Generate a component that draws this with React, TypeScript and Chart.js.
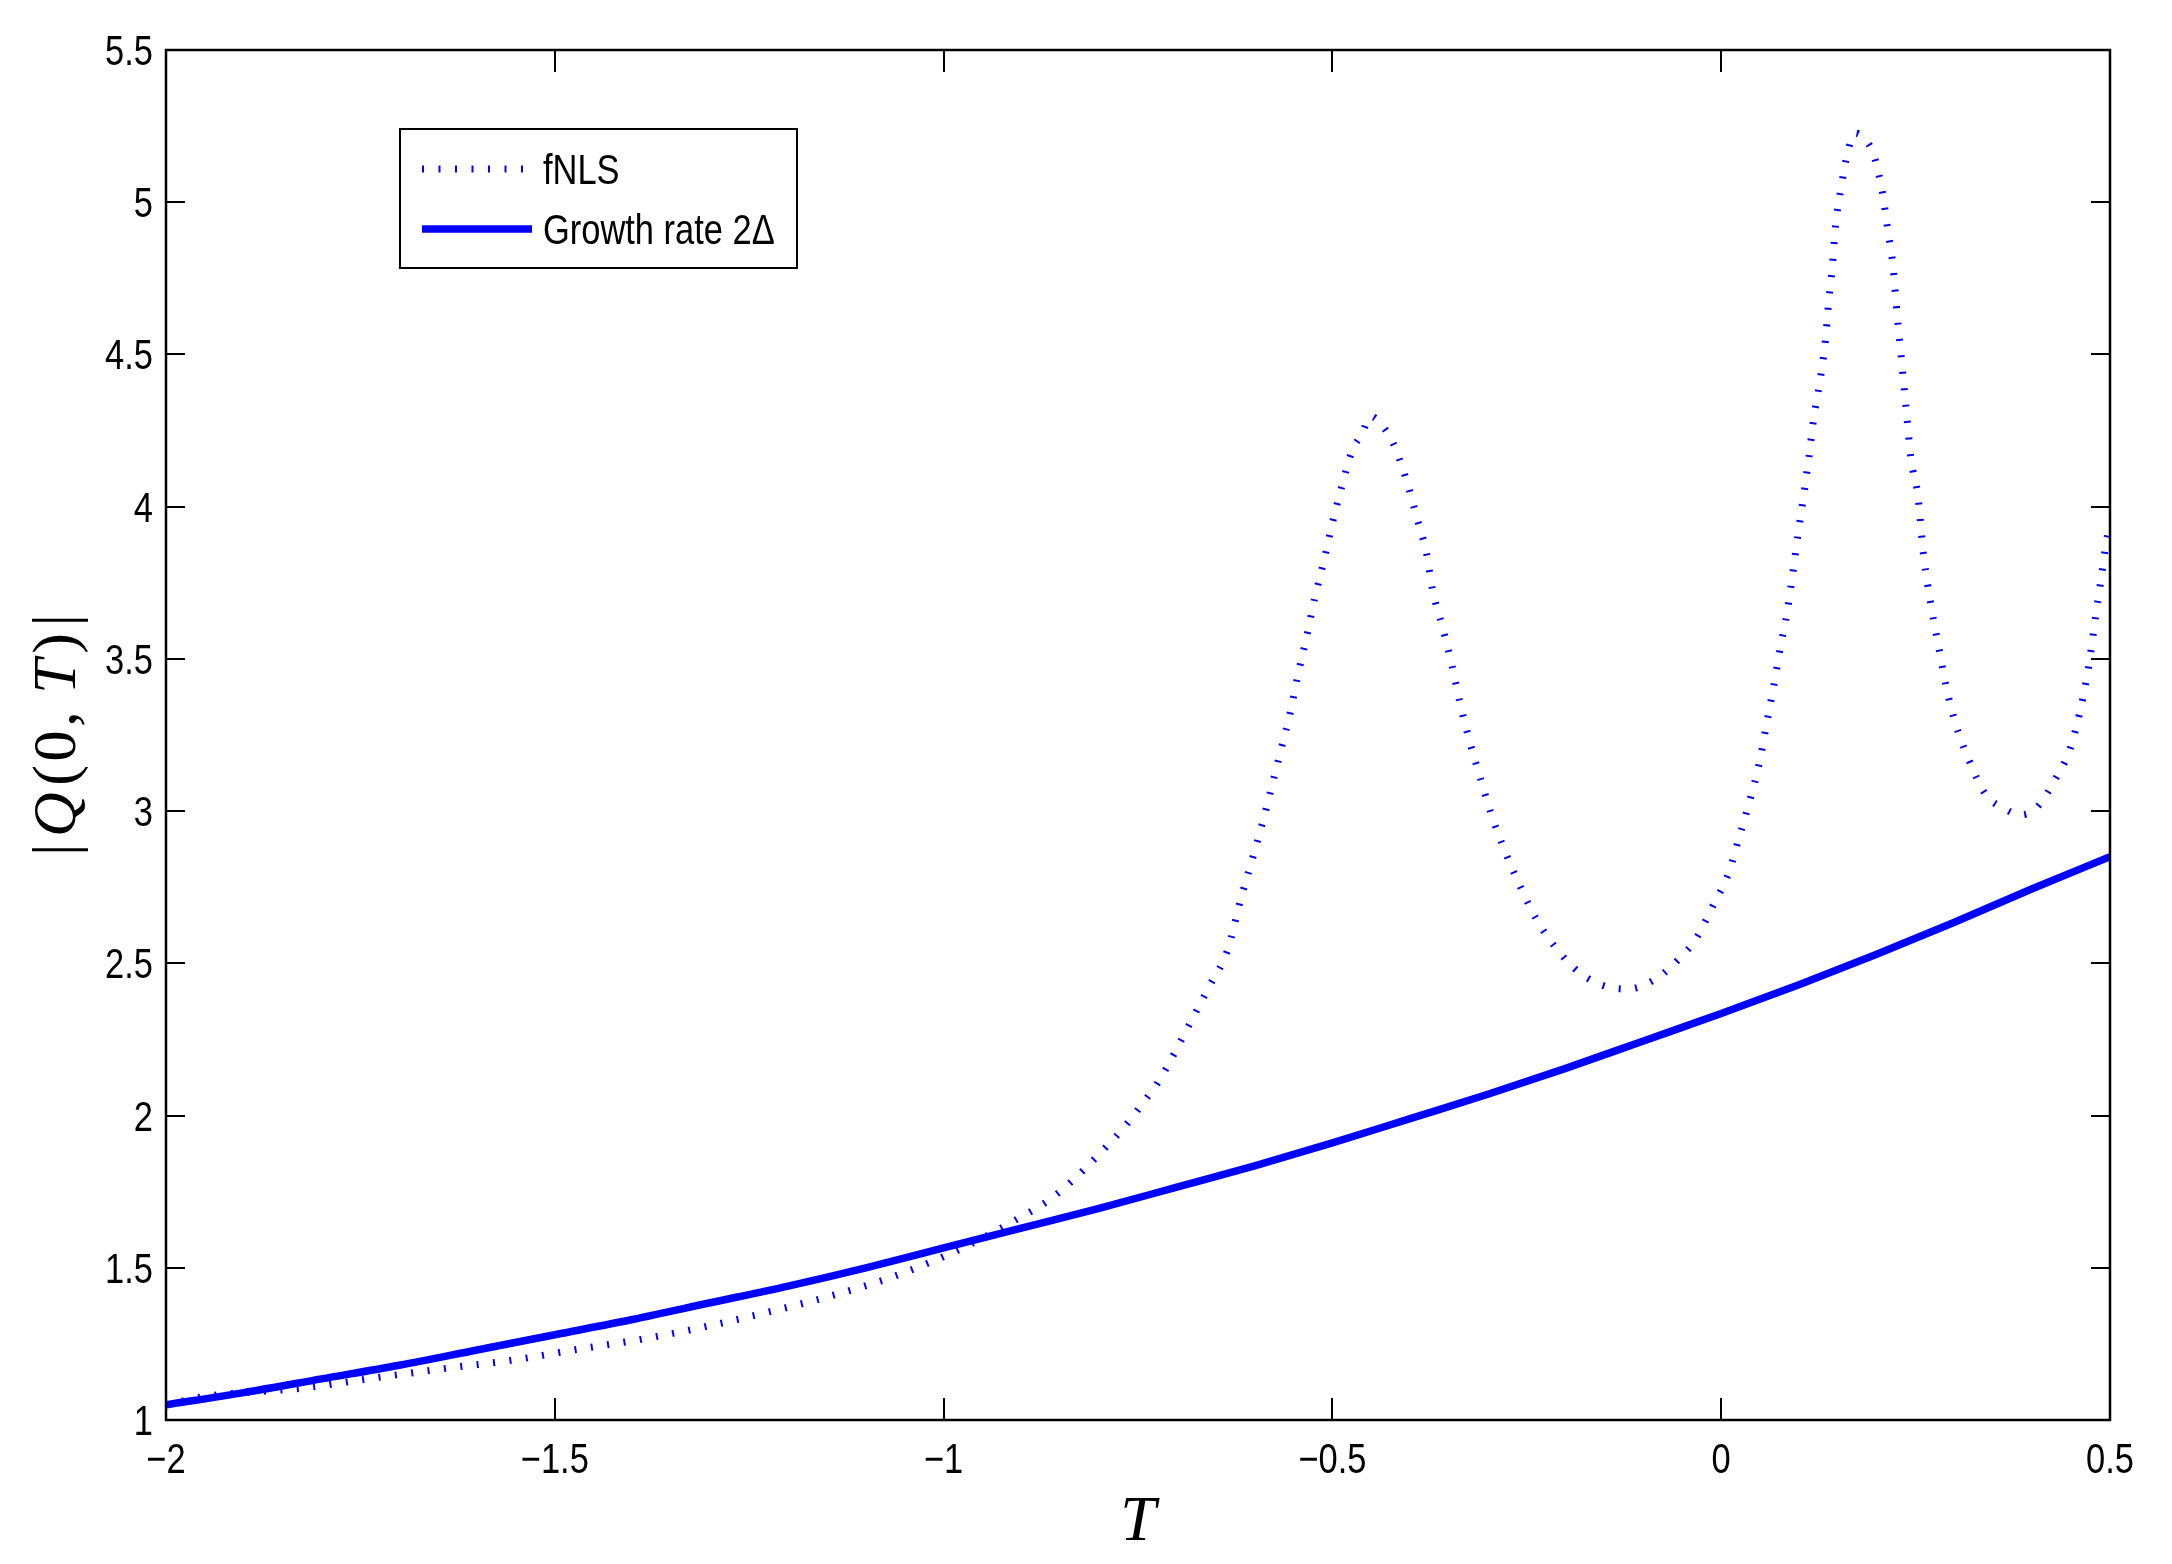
import React, { useEffect, useRef } from "react";
import { Chart, registerables } from "chart.js";

Chart.register(...registerables);

const W = 2172;
const H = 1564;

// Growth rate 2Δ (solid)
const growthT = [
  -2.0, -1.9, -1.8, -1.7, -1.6, -1.5, -1.4, -1.3, -1.2, -1.1, -1.0, -0.9, -0.8,
  -0.7, -0.6, -0.5, -0.4, -0.3, -0.2, -0.1, 0.0, 0.1, 0.2, 0.3, 0.4, 0.5,
];
const growthQ = [
  1.05, 1.09, 1.135, 1.18, 1.23, 1.28, 1.33, 1.385, 1.44, 1.5, 1.565, 1.63,
  1.695, 1.765, 1.835, 1.91, 1.99, 2.07, 2.155, 2.245, 2.335, 2.43, 2.53, 2.635,
  2.745, 2.85,
];

// fNLS (dotted)
const fnlsT = [
  -2.0, -1.951, -1.828, -1.721, -1.639, -1.553, -1.471, -1.389, -1.305, -1.223,
  -1.14, -1.059, -0.979, -0.94, -0.903, -0.864, -0.831, -0.799, -0.768, -0.739,
  -0.725, -0.681, -0.658, -0.635, -0.617, -0.603, -0.59, -0.578, -0.566, -0.554,
  -0.544, -0.533, -0.523, -0.511, -0.5, -0.488, -0.474, -0.462, -0.451, -0.434,
  -0.422, -0.405, -0.392, -0.379, -0.371, -0.358, -0.346, -0.336, -0.324, -0.31,
  -0.296, -0.279, -0.26, -0.239, -0.213, -0.181, -0.142, -0.121, -0.081, -0.049,
  -0.034, -0.011, 0.01, 0.023, 0.037, 0.049, 0.058, 0.067, 0.076, 0.085, 0.092,
  0.099, 0.106, 0.113, 0.119, 0.127, 0.134, 0.138, 0.143, 0.147, 0.154, 0.163,
  0.172, 0.182, 0.195, 0.202, 0.207, 0.214, 0.221, 0.225, 0.232, 0.239, 0.244,
  0.253, 0.26, 0.271, 0.28, 0.289, 0.301, 0.317, 0.34, 0.365, 0.384, 0.404,
  0.429, 0.45, 0.471, 0.482, 0.489, 0.496, 0.5,
];
const fnlsQ = [
  1.05, 1.077, 1.104, 1.142, 1.17, 1.197, 1.232, 1.265, 1.307, 1.356, 1.411,
  1.476, 1.561, 1.611, 1.663, 1.723, 1.794, 1.876, 1.961, 2.057, 2.106, 2.313,
  2.426, 2.542, 2.719, 2.842, 2.961, 3.081, 3.203, 3.326, 3.451, 3.574, 3.697,
  3.821, 3.946, 4.066, 4.188, 4.239, 4.297, 4.26, 4.209, 4.089, 3.969, 3.847,
  3.724, 3.601, 3.476, 3.356, 3.233, 3.111, 2.992, 2.874, 2.761, 2.651, 2.552,
  2.467, 2.42, 2.416, 2.454, 2.529, 2.574, 2.687, 2.8, 2.913, 3.037, 3.158, 3.281,
  3.403, 3.536, 3.657, 3.78, 3.913, 4.035, 4.167, 4.29, 4.412, 4.545, 4.667,
  4.79, 4.922, 5.044, 5.167, 5.227, 5.214, 5.164, 5.1, 5.038, 4.913, 4.79, 4.668,
  4.479, 4.29, 4.158, 4.035, 3.847, 3.658, 3.536, 3.413, 3.29, 3.178, 3.055,
  3.007, 2.988, 3.007, 3.102, 3.215, 3.451, 3.648, 3.771, 3.894, 3.93,
];

const xTickValues = [-2, -1.5, -1, -0.5, 0, 0.5];
const xTickLabels = ["\u22122", "\u22121.5", "\u22121", "\u22120.5", "0", "0.5"];
const yTickValues = [1, 1.5, 2, 2.5, 3, 3.5, 4, 4.5, 5, 5.5];
const yTickLabels = ["1", "1.5", "2", "2.5", "3", "3.5", "4", "4.5", "5", "5.5"];
const seriesLabels = ["fNLS", "Growth rate 2\u0394"];
const xTitle = "T";

const BLUE = "#0000ff";
const SANS = "'Liberation Sans', Arial, sans-serif";
const SERIF = "'Liberation Serif', 'DejaVu Serif', serif";
const DOT_DASH = [2, 14.5];
const NARROW = 0.82;

function labelFor(values: number[], labels: string[], v: number) {
  const i = values.findIndex((t) => Math.abs(t - v) < 1e-9);
  return i >= 0 ? labels[i] : "";
}

function narrowText(
  ctx: CanvasRenderingContext2D,
  s: string,
  x: number,
  y: number,
  align: CanvasTextAlign,
  baseline: CanvasTextBaseline
) {
  ctx.save();
  ctx.translate(x, y);
  ctx.scale(NARROW, 1);
  ctx.textAlign = align;
  ctx.textBaseline = baseline;
  ctx.fillText(s, 0, 0);
  ctx.restore();
}

const framePlugin = {
  id: "matlabFrame",
  afterDraw(chart: any) {
    const ctx = chart.ctx as CanvasRenderingContext2D;
    const { left, right, top, bottom } = chart.chartArea;
    const xs = chart.scales.x;
    const ys = chart.scales.y;
    ctx.save();
    ctx.strokeStyle = "#000";
    ctx.lineWidth = 2;
    ctx.lineCap = "butt";
    // tick marks (inside, all four sides)
    ctx.beginPath();
    for (const t of xs.ticks) {
      const px = Math.round(xs.getPixelForValue(t.value));
      ctx.moveTo(px, bottom);
      ctx.lineTo(px, bottom - 22);
      ctx.moveTo(px, top);
      ctx.lineTo(px, top + 22);
    }
    for (const t of ys.ticks) {
      const py = Math.round(ys.getPixelForValue(t.value));
      ctx.moveTo(left, py);
      ctx.lineTo(left + 19, py);
      ctx.moveTo(right, py);
      ctx.lineTo(right - 19, py);
    }
    ctx.stroke();
    // box
    ctx.lineWidth = 2.5;
    ctx.strokeRect(left, top, right - left, bottom - top);

    // tick labels
    ctx.fillStyle = "#000";
    ctx.font = `42px ${SANS}`;
    for (const t of xs.ticks) {
      const px = xs.getPixelForValue(t.value);
      narrowText(ctx, labelFor(xTickValues, xTickLabels, t.value), px, bottom + 53, "center", "alphabetic");
    }
    for (const t of ys.ticks) {
      const py = ys.getPixelForValue(t.value);
      narrowText(ctx, labelFor(yTickValues, yTickLabels, t.value), left - 13, py + 15, "right", "alphabetic");
    }

    // legend
    const lx = 400, ly = 129, lw = 397, lh = 139;
    ctx.fillStyle = "#fff";
    ctx.fillRect(lx, ly, lw, lh);
    ctx.lineWidth = 2;
    ctx.strokeStyle = "#000";
    ctx.strokeRect(lx, ly, lw, lh);
    const ds = chart.data.datasets;
    const rows = [169, 229];
    ds.forEach((d: any, i: number) => {
      const y = rows[i];
      ctx.save();
      ctx.strokeStyle = d.borderColor;
      ctx.lineWidth = d.borderWidth;
      ctx.lineCap = "butt";
      ctx.setLineDash(d.borderDash || []);
      ctx.beginPath();
      ctx.moveTo(422, y);
      ctx.lineTo(i === 0 ? 524 : 532, y);
      ctx.stroke();
      ctx.restore();
      ctx.fillStyle = "#000";
      ctx.font = `42px ${SANS}`;
      narrowText(ctx, d.label, 543, y + 15, "left", "alphabetic");
    });

    // x title
    ctx.fillStyle = "#000";
    ctx.font = `italic 64px ${SERIF}`;
    ctx.textAlign = "center";
    ctx.textBaseline = "alphabetic";
    ctx.fillText(xTitle, (left + right) / 2, 1540);

    // y title |Q(0, T)|
    const pieces: [string, boolean, number][] = [
      ["|", false, 5],
      ["Q", true, 5],
      ["(", false, 2],
      ["0", false, 2],
      [",", false, 16],
      ["T", true, 4],
      [")", false, 5],
      ["|", false, 0],
    ];
    const up = `62px ${SERIF}`;
    const it = `italic 62px ${SERIF}`;
    let total = 0;
    for (const [s, ital, g] of pieces) {
      ctx.font = ital ? it : up;
      total += ctx.measureText(s).width + g;
    }
    const target = 242;
    const extra = Math.max(0, (target - total) / (pieces.length - 1));
    const fullLen = total + extra * (pieces.length - 1);
    ctx.save();
    ctx.translate(59, (top + bottom) / 2);
    ctx.rotate(-Math.PI / 2);
    ctx.textAlign = "left";
    ctx.textBaseline = "middle";
    let cx = -fullLen / 2;
    for (const [s, ital, g] of pieces) {
      ctx.font = ital ? it : up;
      ctx.fillText(s, cx, 0);
      cx += ctx.measureText(s).width + g + extra;
    }
    ctx.restore();
    ctx.restore();
  },
};

export default function App() {
  const ref = useRef<HTMLCanvasElement | null>(null);
  useEffect(() => {
    if (!ref.current) return;
    const chart = new Chart(ref.current, {
      type: "line",
      data: {
        datasets: [
          {
            label: seriesLabels[0],
            data: fnlsT.map((t, i) => ({ x: t, y: fnlsQ[i] })),
            borderColor: BLUE,
            borderWidth: 7,
            borderDash: DOT_DASH,
            borderCapStyle: "butt",
            pointRadius: 0,
            cubicInterpolationMode: "monotone",
            fill: false,
            order: 2,
          },
          {
            label: seriesLabels[1],
            data: growthT.map((t, i) => ({ x: t, y: growthQ[i] })),
            borderColor: BLUE,
            borderWidth: 7.5,
            pointRadius: 0,
            cubicInterpolationMode: "monotone",
            fill: false,
            order: 1,
          },
        ],
      },
      options: {
        animation: false,
        responsive: false,
        devicePixelRatio: 1,
        layout: { padding: { left: 0, top: 50, right: 62, bottom: 0 } },
        plugins: { legend: { display: false }, tooltip: { enabled: false } },
        scales: {
          x: {
            type: "linear",
            min: -2,
            max: 0.5,
            grid: { display: false },
            border: { display: false },
            afterBuildTicks: (s: any) => {
              s.ticks = xTickValues.map((v) => ({ value: v }));
            },
            afterFit: (s: any) => {
              s.height = 144;
            },
            ticks: { display: false, autoSkip: false },
          },
          y: {
            type: "linear",
            min: 1,
            max: 5.5,
            grid: { display: false },
            border: { display: false },
            afterBuildTicks: (s: any) => {
              s.ticks = yTickValues.map((v) => ({ value: v }));
            },
            afterFit: (s: any) => {
              s.width = 166;
            },
            ticks: { display: false, autoSkip: false },
          },
        },
      } as any,
      plugins: [framePlugin],
    });
    return () => chart.destroy();
  }, []);
  return (
    <div style={{ position: "fixed", left: 0, top: 0, width: W, height: H, background: "#fff" }}>
      <canvas ref={ref} width={W} height={H} style={{ display: "block", width: W, height: H }} />
    </div>
  );
}
